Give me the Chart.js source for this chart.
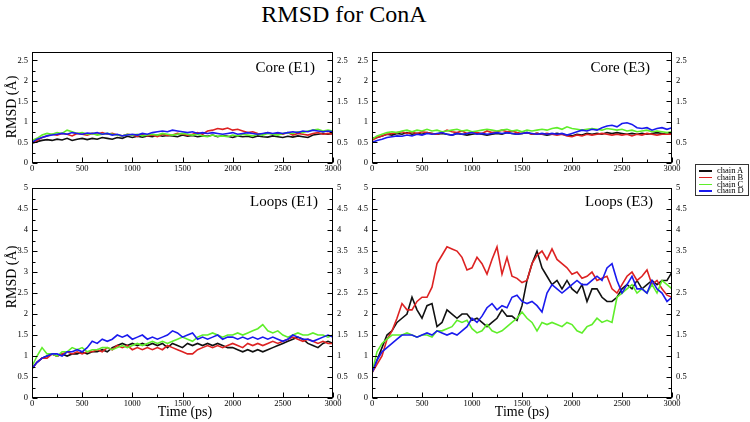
<!DOCTYPE html>
<html><head><meta charset="utf-8">
<script src="https://cdn.jsdelivr.net/npm/chart.js@4/dist/chart.umd.min.js"></script>
<style>
html,body{margin:0;padding:0;background:#fff;}
#root{position:relative;width:750px;height:422px;overflow:hidden;font-family:"Liberation Serif","Times New Roman",serif;color:#000;}
.w{position:absolute;}
.t{position:absolute;white-space:nowrap;line-height:1;}
#legend{position:absolute;left:695px;top:164px;width:54px;height:32px;border:1px solid #333;box-sizing:border-box;font-size:8.5px;}
#legend div{position:absolute;left:0;height:7px;line-height:7px;}
#legend span.sw{position:absolute;left:3px;top:3px;width:13px;height:1.6px;}
#legend span.lb{position:absolute;left:21px;top:0;white-space:nowrap;}
</style></head><body><div id="root">
<div class="t" id="mainTitle" style="left:344px;top:2px;font-size:24px;transform:translateX(-50%);">RMSD for ConA</div>
<div class="w" id="w1" style="left:2px;top:43px;width:361px;height:134px;"><canvas id="c1"></canvas></div>
<div class="w" id="w2" style="left:342px;top:43px;width:360px;height:134px;"><canvas id="c2"></canvas></div>
<div class="w" id="w3" style="left:2px;top:179px;width:361px;height:233px;"><canvas id="c3"></canvas></div>
<div class="w" id="w4" style="left:342px;top:179px;width:360px;height:233px;"><canvas id="c4"></canvas></div>
<div class="t" style="left:315px;top:60px;font-size:15px;transform:translateX(-100%);">Core (E1)</div>
<div class="t" style="left:650px;top:60px;font-size:15px;transform:translateX(-100%);">Core (E3)</div>
<div class="t" style="left:318px;top:194px;font-size:15px;transform:translateX(-100%);">Loops (E1)</div>
<div class="t" style="left:653px;top:194px;font-size:15px;transform:translateX(-100%);">Loops (E3)</div>
<div class="t" style="left:12px;top:107px;font-size:14px;transform:translate(-50%,-50%) rotate(-90deg);">RMSD (Å)</div>
<div class="t" style="left:12px;top:277px;font-size:14px;transform:translate(-50%,-50%) rotate(-90deg);">RMSD (Å)</div>
<div class="t" style="left:185px;top:412px;font-size:14px;transform:translate(-50%,-50%);">Time (ps)</div>
<div class="t" style="left:522px;top:412px;font-size:14px;transform:translate(-50%,-50%);">Time (ps)</div>
<div id="legend"></div>
</div>
<script>
// ---------- data ----------
const timePs = [0,50,100,150,200,250,300,350,400,450,500,550,600,650,700,750,800,850,900,950,
 1000,1050,1100,1150,1200,1250,1300,1350,1400,1450,1500,1550,1600,1650,1700,1750,1800,1850,1900,1950,
 2000,2050,2100,2150,2200,2250,2300,2350,2400,2450,2500,2550,2600,2650,2700,2750,2800,2850,2900,2950,3000];

const chainNames = ['chain A','chain B','chain C','chain D'];

const xTickValues = [0,500,1000,1500,2000,2500,3000];
const coreTickValues = [0,0.5,1,1.5,2,2.5];
const loopTickValues = [0,0.5,1,1.5,2,2.5,3,3.5,4,4.5,5];

const coreE1_A = [0.48,0.52,0.55,0.57,0.55,0.58,0.56,0.60,0.55,0.58,0.60,0.57,0.60,0.58,0.62,0.60,0.58,0.62,0.60,0.65,
 0.62,0.65,0.63,0.66,0.64,0.68,0.65,0.67,0.66,0.64,0.68,0.65,0.67,0.64,0.66,0.65,0.68,0.64,0.67,0.65,
 0.62,0.66,0.64,0.65,0.62,0.66,0.64,0.63,0.66,0.64,0.62,0.65,0.63,0.66,0.64,0.62,0.68,0.70,0.72,0.70,0.72];
const coreE1_B = [0.50,0.55,0.62,0.66,0.70,0.68,0.72,0.70,0.66,0.72,0.70,0.68,0.72,0.70,0.74,0.70,0.72,0.68,0.66,0.70,
 0.68,0.65,0.70,0.66,0.68,0.64,0.70,0.67,0.68,0.72,0.70,0.68,0.70,0.74,0.70,0.78,0.80,0.84,0.82,0.85,
 0.80,0.82,0.78,0.74,0.76,0.72,0.70,0.74,0.70,0.72,0.70,0.74,0.68,0.72,0.70,0.68,0.72,0.74,0.70,0.72,0.70];
const coreE1_C = [0.55,0.60,0.68,0.72,0.70,0.74,0.72,0.80,0.76,0.72,0.74,0.70,0.72,0.68,0.70,0.72,0.70,0.68,0.66,0.70,
 0.68,0.70,0.66,0.68,0.70,0.68,0.72,0.70,0.68,0.70,0.72,0.70,0.68,0.70,0.66,0.64,0.68,0.65,0.66,0.64,
 0.68,0.66,0.70,0.68,0.66,0.70,0.68,0.72,0.70,0.68,0.72,0.74,0.72,0.76,0.74,0.78,0.80,0.82,0.78,0.80,0.78];
const coreE1_D = [0.50,0.58,0.62,0.66,0.68,0.70,0.72,0.70,0.74,0.72,0.70,0.73,0.72,0.74,0.70,0.72,0.68,0.70,0.66,0.68,
 0.70,0.68,0.72,0.70,0.74,0.76,0.78,0.76,0.80,0.78,0.76,0.74,0.76,0.72,0.74,0.72,0.74,0.72,0.70,0.72,
 0.74,0.70,0.72,0.74,0.72,0.70,0.72,0.74,0.72,0.74,0.72,0.74,0.76,0.74,0.78,0.76,0.80,0.78,0.76,0.78,0.76];

const coreE3_A = [0.60,0.62,0.66,0.70,0.68,0.72,0.70,0.74,0.70,0.72,0.70,0.74,0.72,0.70,0.72,0.70,0.68,0.72,0.70,0.68,
 0.70,0.72,0.70,0.68,0.70,0.72,0.70,0.74,0.72,0.70,0.72,0.74,0.70,0.72,0.70,0.68,0.70,0.72,0.70,0.68,
 0.66,0.70,0.68,0.72,0.70,0.72,0.70,0.74,0.72,0.74,0.72,0.70,0.72,0.70,0.72,0.70,0.72,0.74,0.72,0.70,0.72];
const coreE3_B = [0.55,0.62,0.66,0.70,0.72,0.74,0.76,0.72,0.75,0.72,0.76,0.74,0.72,0.70,0.74,0.80,0.76,0.74,0.78,0.72,
 0.76,0.74,0.72,0.78,0.74,0.76,0.80,0.76,0.78,0.74,0.72,0.74,0.70,0.72,0.70,0.72,0.70,0.68,0.70,0.66,
 0.64,0.68,0.66,0.70,0.68,0.70,0.72,0.70,0.68,0.70,0.68,0.70,0.66,0.70,0.68,0.72,0.70,0.68,0.70,0.70,0.70];
const coreE3_C = [0.58,0.66,0.70,0.74,0.76,0.74,0.78,0.80,0.76,0.80,0.78,0.82,0.78,0.80,0.76,0.78,0.80,0.82,0.78,0.80,
 0.76,0.78,0.80,0.82,0.80,0.78,0.80,0.82,0.78,0.80,0.76,0.80,0.78,0.80,0.82,0.80,0.84,0.86,0.82,0.88,
 0.84,0.82,0.80,0.82,0.84,0.82,0.80,0.84,0.82,0.80,0.82,0.78,0.80,0.76,0.78,0.80,0.76,0.78,0.76,0.74,0.76];
const coreE3_D = [0.50,0.55,0.58,0.62,0.64,0.66,0.65,0.68,0.66,0.70,0.68,0.72,0.70,0.72,0.74,0.70,0.68,0.72,0.70,0.72,
 0.74,0.70,0.72,0.70,0.72,0.74,0.72,0.74,0.72,0.70,0.72,0.74,0.72,0.70,0.72,0.70,0.72,0.70,0.72,0.68,
 0.72,0.76,0.80,0.78,0.82,0.80,0.86,0.90,0.92,0.88,0.96,0.98,0.94,0.86,0.84,0.86,0.80,0.84,0.86,0.82,0.86];

const loopsE1_A = [0.70,0.85,0.95,1.00,1.05,1.00,1.05,1.00,1.05,1.05,1.10,1.05,1.10,1.10,1.15,1.10,1.20,1.25,1.30,1.25,
 1.30,1.25,1.30,1.25,1.30,1.25,1.30,1.20,1.30,1.25,1.20,1.30,1.25,1.30,1.25,1.30,1.25,1.30,1.25,1.20,
 1.20,1.15,1.10,1.15,1.10,1.15,1.10,1.15,1.20,1.25,1.30,1.35,1.40,1.45,1.40,1.30,1.25,1.20,1.30,1.35,1.30];
const loopsE1_B = [0.70,0.85,0.95,0.95,1.05,1.00,1.05,1.10,1.05,1.10,1.05,1.10,1.10,1.15,1.10,1.20,1.15,1.25,1.20,1.25,
 1.15,1.20,1.15,1.20,1.15,1.20,1.15,1.25,1.20,1.15,1.10,1.05,1.05,1.15,1.20,1.25,1.20,1.25,1.20,1.25,
 1.30,1.25,1.20,1.30,1.25,1.30,1.25,1.30,1.35,1.30,1.35,1.40,1.45,1.40,1.35,1.40,1.35,1.30,1.35,1.30,1.30];
const loopsE1_C = [0.75,1.00,1.20,1.05,1.05,1.00,1.10,1.10,1.20,1.15,1.20,1.10,1.15,1.15,1.20,1.20,1.15,1.20,1.25,1.20,
 1.25,1.30,1.25,1.30,1.35,1.30,1.35,1.30,1.35,1.40,1.45,1.40,1.35,1.45,1.50,1.50,1.55,1.50,1.45,1.50,
 1.50,1.55,1.50,1.55,1.60,1.65,1.75,1.60,1.55,1.60,1.50,1.45,1.50,1.55,1.50,1.50,1.55,1.50,1.50,1.45,1.50];
const loopsE1_D = [0.70,0.85,0.95,1.00,1.05,1.05,1.00,1.10,1.10,1.15,1.10,1.20,1.35,1.30,1.40,1.35,1.40,1.50,1.45,1.50,
 1.40,1.45,1.50,1.40,1.45,1.40,1.45,1.50,1.60,1.55,1.45,1.50,1.55,1.40,1.45,1.40,1.45,1.50,1.40,1.45,
 1.45,1.40,1.45,1.40,1.45,1.40,1.45,1.40,1.45,1.40,1.35,1.40,1.50,1.45,1.40,1.40,1.35,1.40,1.45,1.50,1.45];

const loopsE3_A = [0.60,0.90,1.20,1.50,1.60,1.80,1.90,2.00,2.40,2.10,1.90,2.20,2.25,1.70,1.80,2.10,2.00,1.90,2.00,2.00,
 1.85,1.90,1.80,1.70,1.80,1.90,2.10,1.95,1.95,1.85,2.20,2.80,3.20,3.50,3.10,2.90,2.70,2.80,2.60,2.80,
 2.60,2.50,2.70,2.30,2.60,2.60,2.40,2.30,2.30,2.40,2.60,2.70,2.60,2.80,2.60,2.70,2.80,2.70,2.80,2.80,3.00];
const loopsE3_B = [0.60,0.80,1.00,1.40,1.60,1.90,2.25,2.10,2.10,2.30,2.40,2.40,2.64,3.20,3.40,3.60,3.55,3.50,3.35,3.05,
 3.10,3.35,3.20,2.95,3.30,3.60,2.95,3.35,2.90,2.85,2.75,2.80,3.20,3.40,3.50,3.30,3.55,3.30,3.20,3.10,
 2.95,3.00,2.85,2.90,3.00,2.80,2.85,2.90,2.60,2.50,2.70,2.90,3.00,2.80,2.90,3.05,2.70,2.80,2.60,2.45,2.40];
const loopsE3_C = [0.60,1.10,1.30,1.40,1.50,1.50,1.50,1.55,1.50,1.45,1.50,1.50,1.45,1.60,1.60,1.65,1.70,1.85,1.80,1.85,
 1.65,1.55,1.60,1.75,1.60,1.55,1.60,1.70,1.80,1.90,2.05,1.90,1.80,1.60,1.80,1.75,1.80,1.75,1.70,1.80,
 1.75,1.60,1.55,1.70,1.75,1.90,1.80,1.85,1.80,2.40,2.50,2.60,2.70,2.50,2.60,2.50,2.70,2.50,2.80,2.70,2.60];
const loopsE3_D = [0.60,0.90,1.10,1.20,1.30,1.40,1.50,1.50,1.50,1.45,1.50,1.55,1.50,1.60,1.55,1.50,1.55,1.50,1.60,1.70,
 1.90,1.80,1.95,2.15,2.25,2.10,2.20,2.15,2.40,2.45,2.30,2.25,2.30,2.20,2.05,2.50,2.70,2.60,2.50,2.60,
 2.70,2.80,2.70,2.70,2.80,2.90,2.80,3.10,3.20,2.80,2.50,2.70,2.90,2.60,2.60,2.50,2.80,2.60,2.50,2.30,2.40];

// ---------- styles ----------
const chainColors = ['#111111','#dd2222','#5fee2a','#1a1aee'];
const serif = '"Liberation Serif","Times New Roman",serif';
const PAD = {l:30, r:30, t:8, b:14};

// legend (HTML)
const lg = document.getElementById('legend');
chainNames.forEach((n,i)=>{
  const row = document.createElement('div');
  row.style.top = (2 + i*6.8) + 'px';
  row.style.width = '100%';
  row.innerHTML = '<span class="sw" style="background:'+chainColors[i]+'"></span><span class="lb">'+n+'</span>';
  lg.appendChild(row);
});

const frameTicks = {
  id: 'frameTicks',
  afterDraw(chart) {
    const {ctx, chartArea: a, scales} = chart;
    const x = scales.x, y = scales.y;
    const L = Math.round(a.left)+0.5, R = Math.round(a.right)-0.5, T = Math.round(a.top)+0.5, B = Math.round(a.bottom)-0.5;
    ctx.save();
    ctx.strokeStyle = '#000';
    ctx.lineWidth = 1;
    ctx.strokeRect(L, T, R-L, B-T);
    ctx.beginPath();
    const xt = x.ticks.map(t=>t.value);
    xt.forEach((v,i)=>{
      const px = Math.round(x.getPixelForValue(v))+0.5;
      ctx.moveTo(px, B); ctx.lineTo(px, B-5);
      if (i < xt.length-1) {
        const pm = Math.round(x.getPixelForValue((v+xt[i+1])/2))+0.5;
        ctx.moveTo(pm, B); ctx.lineTo(pm, B-3);
      }
    });
    const yt = y.ticks.map(t=>t.value);
    yt.forEach((v,i)=>{
      const py = Math.round(y.getPixelForValue(v))+0.5;
      ctx.moveTo(L, py); ctx.lineTo(L+5, py);
      ctx.moveTo(R, py); ctx.lineTo(R-5, py);
      const nv = i < yt.length-1 ? (v+yt[i+1])/2 : v + (v - yt[i-1])/2;
      if (nv < y.max) {
        const pm = Math.round(y.getPixelForValue(nv))+0.5;
        ctx.moveTo(L, pm); ctx.lineTo(L+3, pm);
        ctx.moveTo(R, pm); ctx.lineTo(R-3, pm);
      }
    });
    ctx.stroke();
    ctx.restore();
  }
};

function yScale(pos, ymax, tickVals) {
  return {
    type: 'linear', position: pos, min: 0, max: ymax,
    afterBuildTicks: s => { s.ticks = tickVals.map(v => ({value: v})); },
    afterFit: s => { s.width = pos === 'left' ? PAD.l : PAD.r; },
    grid: {display: false, drawTicks: false},
    border: {display: false},
    ticks: {font: {family: serif, size: 8.5}, color: '#000', padding: 4, callback: v => String(v)}
  };
}

function makePanel(canvasId, series, ymax, yTicks) {
  const datasets = series.map((vals, i) => ({
    label: chainNames[i],
    data: timePs.map((t, k) => ({x: t, y: vals[k]})),
    borderColor: chainColors[i],
    borderWidth: 1.6,
    pointRadius: 0,
    tension: 0,
    fill: false,
    order: 4 - i
  }));
  new Chart(document.getElementById(canvasId), {
    type: 'line',
    data: {datasets},
    options: {
      responsive: true, maintainAspectRatio: false, animation: false,
      devicePixelRatio: 1,
      layout: {padding: {top: PAD.t, left: 0, right: 0, bottom: 0}},
      plugins: {legend: {display: false}, tooltip: {enabled: false}, title: {display: false}},
      scales: {
        x: {
          type: 'linear', min: 0, max: 3000,
          afterBuildTicks: s => { s.ticks = xTickValues.map(v => ({value: v})); },
          afterFit: s => { s.height = PAD.b; },
          grid: {display: false, drawTicks: false},
          border: {display: false},
          ticks: {font: {family: serif, size: 8.5}, color: '#000', padding: 1, maxRotation: 0, autoSkip: false, callback: v => String(v)}
        },
        y: yScale('left', ymax, yTicks),
        y2: yScale('right', ymax, yTicks)
      }
    },
    plugins: [frameTicks]
  });
}

makePanel('c1', [coreE1_A, coreE1_B, coreE1_C, coreE1_D], 2.7, coreTickValues);
makePanel('c2', [coreE3_A, coreE3_B, coreE3_C, coreE3_D], 2.7, coreTickValues);
makePanel('c3', [loopsE1_A, loopsE1_B, loopsE1_C, loopsE1_D], 5, loopTickValues);
makePanel('c4', [loopsE3_A, loopsE3_B, loopsE3_C, loopsE3_D], 5, loopTickValues);
</script>
</body></html>
